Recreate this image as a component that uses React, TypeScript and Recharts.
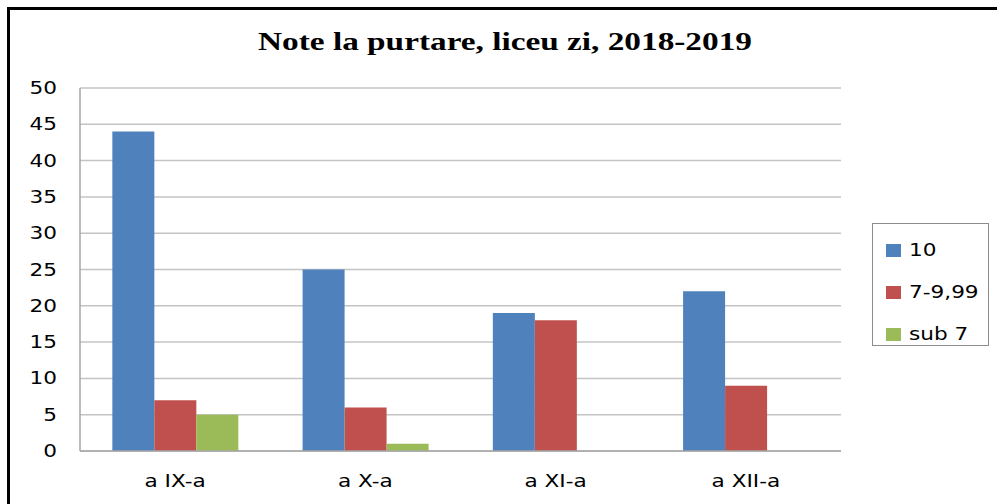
import { BarChart, Bar, XAxis, YAxis, CartesianGrid, Legend } from "recharts";

const classes = ["a IX-a", "a X-a", "a XI-a", "a XII-a"];
const nota10 = [44, 25, 19, 22];
const nota7to999 = [7, 6, 18, 9];
const sub7 = [5, 1, 0, 0];
const yTicks = [0, 5, 10, 15, 20, 25, 30, 35, 40, 45, 50];

const SERIES = [
  { key: "s10", name: "10", color: "#4F81BD" },
  { key: "s7", name: "7-9,99", color: "#C0504D" },
  { key: "sub", name: "sub 7", color: "#9BBB59" },
];

const rows = classes.map((c, i) => ({
  cls: c,
  s10: nota10[i],
  s7: nota7to999[i],
  sub: sub7[i],
}));

const FONT = "'DejaVu Sans', Verdana, sans-serif";
// the original picture is stretched sideways a bit
const STRETCH = 1.27;

function XTick(props: any) {
  const { x, y, payload } = props;
  return (
    <g transform={`translate(${x},${y}) scale(${STRETCH},1)`}>
      <text x={0} y={0} dy="0.71em" textAnchor="middle" fill="#000" fontSize={17} fontFamily={FONT}>
        {payload.value}
      </text>
    </g>
  );
}

function YTick(props: any) {
  const { x, y, payload } = props;
  return (
    <g transform={`translate(${x + 1},${y}) scale(${STRETCH},1)`}>
      <text x={0} y={0} dy="0.355em" textAnchor="end" fill="#000" fontSize={17} fontFamily={FONT}>
        {payload.value}
      </text>
    </g>
  );
}

function LegendBox() {
  return (
    <div
      style={{
        width: 117,
        height: 123,
        border: "1px solid #8c8c8c",
        boxSizing: "border-box",
        paddingTop: 8,
      }}
    >
      {SERIES.map((s) => (
        <div
          key={s.key}
          style={{
            display: "flex",
            alignItems: "center",
            height: 36,
            marginBottom: 6,
            paddingLeft: 13,
            fontFamily: FONT,
            fontSize: 17,
            color: "#000",
          }}
        >
          <span
            style={{
              width: 15,
              height: 13,
              background: s.color,
              marginRight: 8,
              display: "inline-block",
            }}
          />
          <span style={{ display: "inline-block", transform: `scaleX(${STRETCH})`, transformOrigin: "left center" }}>
            {s.name}
          </span>
        </div>
      ))}
    </div>
  );
}

export default function App() {
  return (
    <div
      style={{
        position: "fixed",
        left: 0,
        top: 0,
        width: 997,
        height: 504,
        background: "#fff",
        overflow: "hidden",
      }}
    >
      {/* frame: only top + left edges are visible in the crop */}
      <div
        style={{
          position: "absolute",
          left: 7,
          top: 7,
          width: 1000,
          height: 510,
          borderTop: "3px solid #000",
          borderLeft: "3px solid #000",
        }}
      />
      <div
        style={{
          position: "absolute",
          left: 0,
          width: 1010,
          top: 27,
          textAlign: "center",
          fontFamily: "'Liberation Serif', 'Times New Roman', serif",
          fontWeight: "bold",
          fontSize: 26,
          color: "#000",
          transform: "scaleX(1.28)",
          transformOrigin: "505px center",
        }}
      >
        Note la purtare, liceu zi, 2018-2019
      </div>
      <div style={{ position: "absolute", left: 0, top: 0 }}>
        <BarChart
          width={997}
          height={504}
          data={rows}
          margin={{ top: 88, right: 156, bottom: 23, left: 20 }}
          barCategoryGap="17%"
          barGap={0}
        >
          <CartesianGrid vertical={false} stroke="#c4c4c4" strokeWidth={1.5} />
          <XAxis
            dataKey="cls"
            height={30}
            tickLine={false}
            tickMargin={18}
            axisLine={{ stroke: "#a6a6a6", strokeWidth: 1.5 }}
            tick={<XTick />}
          />
          <YAxis
            width={60}
            domain={[0, 50]}
            ticks={yTicks}
            interval={0}
            tickLine={false}
            tickSize={0}
            tickMargin={24}
            axisLine={{ stroke: "#a6a6a6", strokeWidth: 1.5 }}
            tick={<YTick />}
          />
          <Legend
            layout="vertical"
            align="center"
            verticalAlign="middle"
            wrapperStyle={{ left: 872, top: 223, width: 117, height: 123 }}
            content={() => <LegendBox />}
          />
          {SERIES.map((s) => (
            <Bar
              key={s.key}
              dataKey={s.key}
              name={s.name}
              fill={s.color}
              isAnimationActive={false}
            />
          ))}
        </BarChart>
      </div>
    </div>
  );
}
